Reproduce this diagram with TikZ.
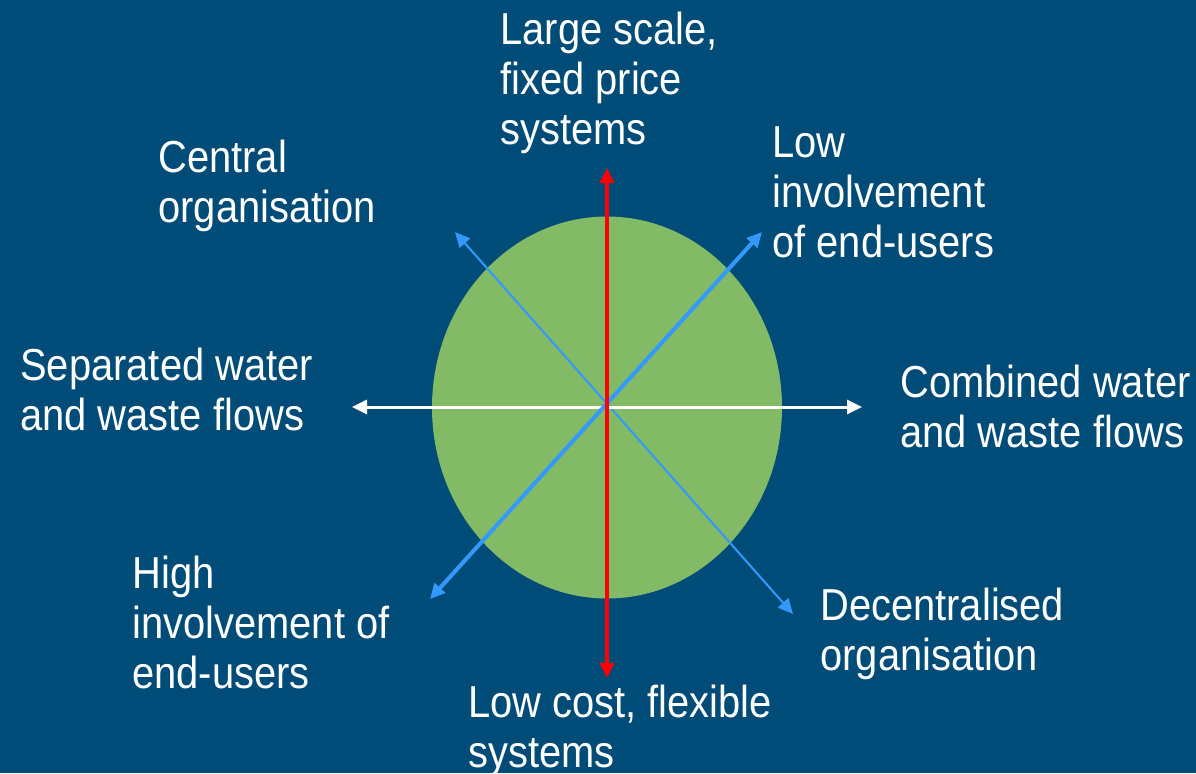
\documentclass[tikz,border=0pt]{standalone}
\usepackage{fontspec}
\setmainfont{Liberation Sans}[FakeStretch=0.89]
\usetikzlibrary{arrows.meta}
\definecolor{bgblue}{HTML}{004C78}
\definecolor{discgreen}{HTML}{82BA66}
\definecolor{axisblue}{HTML}{3399FF}
\definecolor{axisred}{HTML}{FF0000}
\tikzset{
    my-label/.style={
        anchor=base west, align=left, text=white, inner sep=0pt,
        font=\fontsize{22.4pt}{25pt}\selectfont
    },
    my-axis/.style={
        {Triangle[length=7.5pt,width=7pt]}-{Triangle[length=7.5pt,width=7pt]}
    },
}

\begin{document}
\begin{tikzpicture}[x=0.5pt, y=-0.5pt]

        % BACKGROUND
        \fill[bgblue] (0,0) rectangle (1196,773);
        \useasboundingbox (0,0) rectangle (1196,773);

        % DISC
        \fill[discgreen] (607,407.5) ellipse [x radius=175, y radius=191];

        % AXIS END POINTS
        \coordinate (TOP)    at (607,168);
        \coordinate (BOTTOM) at (607,678);
        \coordinate (LEFT)   at (352,407);
        \coordinate (RIGHT)  at (862,407);
        \coordinate (NE)     at (762,232);
        \coordinate (SW)     at (430,599);
        \coordinate (NW)     at (455,232);
        \coordinate (SE)     at (793,614);

        % AXES
        \draw[my-axis, axisblue, line width=1pt]   (NW) -- (SE);
        \draw[my-axis, white, line width=1.5pt]    (LEFT) -- (RIGHT);
        \draw[my-axis, axisblue, line width=2pt]   (SW) -- (NE);
        \draw[my-axis, axisred, line width=1.75pt] (BOTTOM) -- (TOP);

        % LABELS (placed at the baseline of the last line)
        \node[my-label] (SCALE)    at (500,144) {Large scale,\\fixed price\\systems};
        \node[my-label] (LOWINV)   at (772,257) {Low\\involvement\\of end-users};
        \node[my-label] (CENTRAL)  at (158,222) {Central\\organisation};
        \node[my-label] (SEP)      at (20,430)  {Separated water\\and waste flows};
        \node[my-label] (COMB)     at (900,447) {Combined water\\and waste flows};
        \node[my-label] (HIGHINV)  at (132,688) {High\\involvement of\\end-users};
        \node[my-label] (DECENT)   at (820,670) {Decentralised\\organisation};
        \node[my-label] (COST)     at (468,767) {Low cost, flexible\\systems};

    \end{tikzpicture}
\end{document}
